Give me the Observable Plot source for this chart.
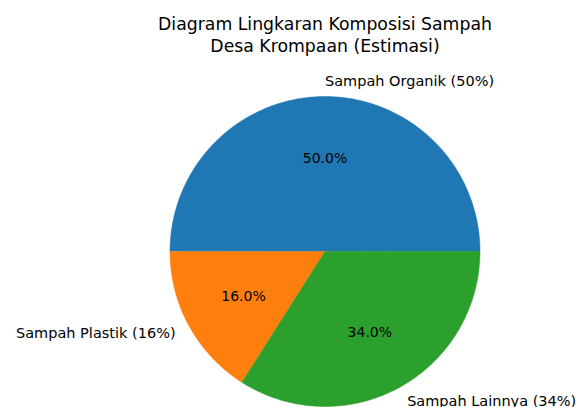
<!DOCTYPE html>
<html><head><meta charset="utf-8">
<script src="https://cdn.jsdelivr.net/npm/d3@7"></script>
<script src="https://cdn.jsdelivr.net/npm/@observablehq/plot@0.6"></script>
<style>body{margin:0;background:#fff}</style>
</head><body><div id="chart"></div>
<script>
const categories = ["Sampah Organik", "Sampah Plastik", "Sampah Lainnya"];
const values = [50, 16, 34];
const colors = ["#1f77b4", "#ff7f0e", "#2ca02c"];
const titleLines = ["Diagram Lingkaran Komposisi Sampah", "Desa Krompaan (Estimasi)"];

const total = d3.sum(values);
let start = 0;
const slices = categories.map((c, i) => {
  const a0 = start, a1 = start + values[i] / total * 360;
  start = a1;
  return {c, v: values[i], a0, a1, mid: (a0 + a1) / 2, color: colors[i]};
});
const rad = d => d * Math.PI / 180;
const poly = [];
slices.forEach(s => {
  poly.push({c: s.c, color: s.color, x: 0, y: 0});
  const n = Math.ceil(s.a1 - s.a0);
  for (let k = 0; k <= n; k++) {
    const a = s.a0 + (s.a1 - s.a0) * k / n;
    poly.push({c: s.c, color: s.color, x: Math.cos(rad(a)), y: Math.sin(rad(a))});
  }
});
const outer = slices.map(s => ({
  text: `${s.c} (${s.v}%)`,
  x: 1.1 * Math.cos(rad(s.mid)), y: 1.1 * Math.sin(rad(s.mid))
}));
const inner = slices.map(s => ({
  text: `${(s.v / total * 100).toFixed(1)}%`,
  x: 0.6 * Math.cos(rad(s.mid)), y: 0.6 * Math.sin(rad(s.mid))
}));

const W = 576, H = 407, cx = 324.5, cy = 251, R = 155;
const chart = Plot.plot({
  width: W, height: H,
  margin: 0,
  style: {fontFamily: "DejaVu Sans", background: "#fff", color: "#000"},
  x: {domain: [-cx / R, (W - cx) / R], axis: null},
  y: {domain: [-(H - cy) / R, cy / R], axis: null},
  marks: [
    Plot.line(poly, {x: "x", y: "y", z: "c", fill: "color", stroke: "color", strokeWidth: 0.5, curve: "linear-closed"}),
    Plot.text(inner, {x: "x", y: "y", text: "text", fontSize: 14, fill: "#000"}),
    Plot.text(outer.filter(d => d.x > -1e-9), {x: "x", y: "y", text: "text", textAnchor: "start", fontSize: 14.5, fill: "#000"}),
    Plot.text(outer.filter(d => d.x <= -1e-9), {x: "x", y: "y", text: "text", textAnchor: "end", fontSize: 14.5, fill: "#000"}),
    Plot.text([titleLines[0]], {frameAnchor: "top", text: d => d, dx: cx - W / 2, dy: 29, lineAnchor: "bottom", fontSize: 17.3, fill: "#000"}),
    Plot.text([titleLines[1]], {frameAnchor: "top", text: d => d, dx: cx - W / 2, dy: 51, lineAnchor: "bottom", fontSize: 17.3, fill: "#000"})
  ]
});
document.getElementById("chart").appendChild(chart);
</script>
</body></html>
